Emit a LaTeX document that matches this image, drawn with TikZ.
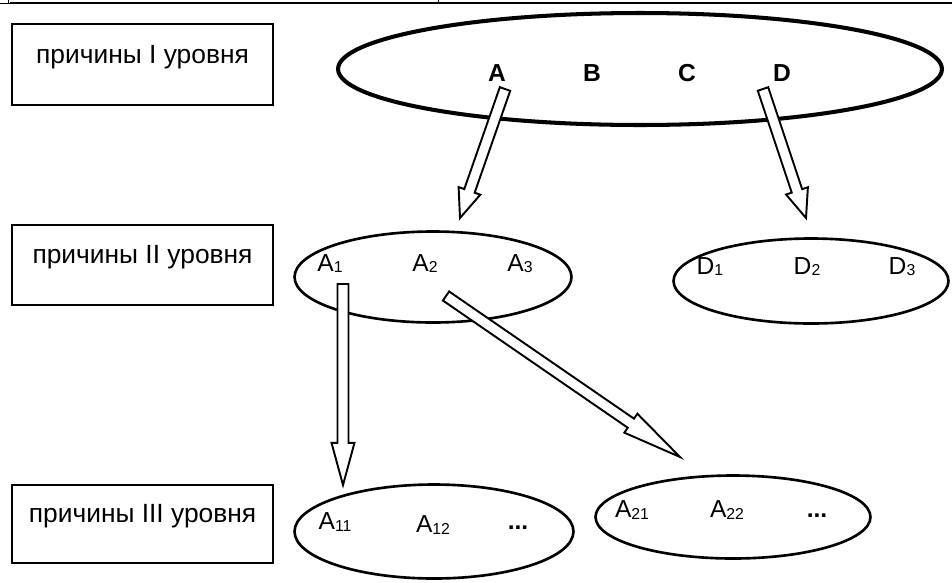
\documentclass[tikz,border=0pt]{standalone}
\usepackage{fontspec}
\setmainfont{Liberation Sans}
\usetikzlibrary{shapes.geometric,calc}
\newcommand\ix[1]{\raisebox{-0.6pt}{\fontsize{9}{9}\selectfont#1}}
\begin{document}
\begin{tikzpicture}[x=0.02cm, y=-0.02cm,
    every node/.style={font=\fontsize{14}{16}\selectfont},
    levelbox/.style={draw, line width=0.8pt, minimum width=5.22cm, text depth=12pt, font=\fontsize{15}{17}\selectfont},
    causeset/.style={ellipse, draw, line width=1.5pt, inner sep=0pt},
    hollow/.style={draw, fill=white, line width=1.1pt, line join=miter,
        to path={let \p1=($(\tikztotarget)-(\tikztostart)$), \n1={atan2(\y1,\x1)}, \n2={0.79*veclen(\x1,\y1)} in
            ($(\tikztostart)+(\n1+90:0.11cm)$) -- ($(\tikztostart)+(\n1:\n2)+(\n1+90:0.11cm)$)
            -- ($(\tikztostart)+(\n1:\n2)+(\n1+90:0.23cm)$) -- (\tikztotarget)
            -- ($(\tikztostart)+(\n1:\n2)+(\n1-90:0.23cm)$) -- ($(\tikztostart)+(\n1:\n2)+(\n1-90:0.11cm)$)
            -- ($(\tikztostart)+(\n1-90:0.11cm)$) -- cycle}}]
\useasboundingbox (0,0) rectangle (952,582);

\draw[line width=0.5pt] (0,3) -- (10,3) (8,0) -- (8,3) (438,0) -- (438,3);
\draw[line width=1.2pt] (10,3) -- (952,3);

\node[levelbox, minimum height=1.62cm] (lvl1) at (142.5,64.5) {причины I уровня};
\node[levelbox, minimum height=1.6cm] (lvl2) at (142.5,265) {причины II уровня};
\node[levelbox, minimum height=1.56cm] (lvl3) at (142.5,524) {причины III уровня};

\node[causeset, line width=2.3pt, minimum width=12.08cm, minimum height=2.24cm] (top) at (640,69) {};
\node[causeset, minimum width=5.54cm, minimum height=1.82cm] (setA) at (433,277) {};
\node[causeset, minimum width=5.5cm, minimum height=1.7cm] (setD) at (811,281) {};
\node[causeset, minimum width=5.58cm, minimum height=1.88cm] (setA1) at (434,531.5) {};
\node[causeset, minimum width=5.5cm, minimum height=1.66cm] (setA2) at (733,517) {};

\node[font=\fontsize{14}{16}\selectfont\bfseries] (a) at (497,73) {A};
\node[font=\fontsize{14}{16}\selectfont\bfseries] (b) at (592,73) {B};
\node[font=\fontsize{14}{16}\selectfont\bfseries] (c) at (687,73) {C};
\node[font=\fontsize{14}{16}\selectfont\bfseries] (d) at (782,73) {D};

\node (a1) at (330,264) {A\ix{1}};
\node (a2) at (425,264) {A\ix{2}};
\node (a3) at (520,264) {A\ix{3}};
\node (d1) at (710,267) {D\ix{1}};
\node (d2) at (807,267) {D\ix{2}};
\node (d3) at (902,267) {D\ix{3}};
\node (a11) at (335,522) {A\ix{11}};
\node (a12) at (433,525) {A\ix{12}};
\node (a1x) at (518,528) {\textbf{...}};
\node (a21) at (632,510) {A\ix{21}};
\node (a22) at (727,510) {A\ix{22}};
\node (a2x) at (817,516) {\textbf{...}};

\coordinate (a-out) at (505,89);
\coordinate (a-in) at (460,218);
\coordinate (d-out) at (763,89);
\coordinate (d-in) at (806,218);
\coordinate (a1-out) at (343,284);
\coordinate (a1-in) at (343,485);
\coordinate (a2-out) at (446,296);
\coordinate (a2-in) at (680,457);

\draw[hollow] (a-out) to (a-in);
\draw[hollow] (d-out) to (d-in);
\draw[hollow] (a1-out) to (a1-in);
\draw[hollow] (a2-out) to (a2-in);
\end{tikzpicture}
\end{document}
